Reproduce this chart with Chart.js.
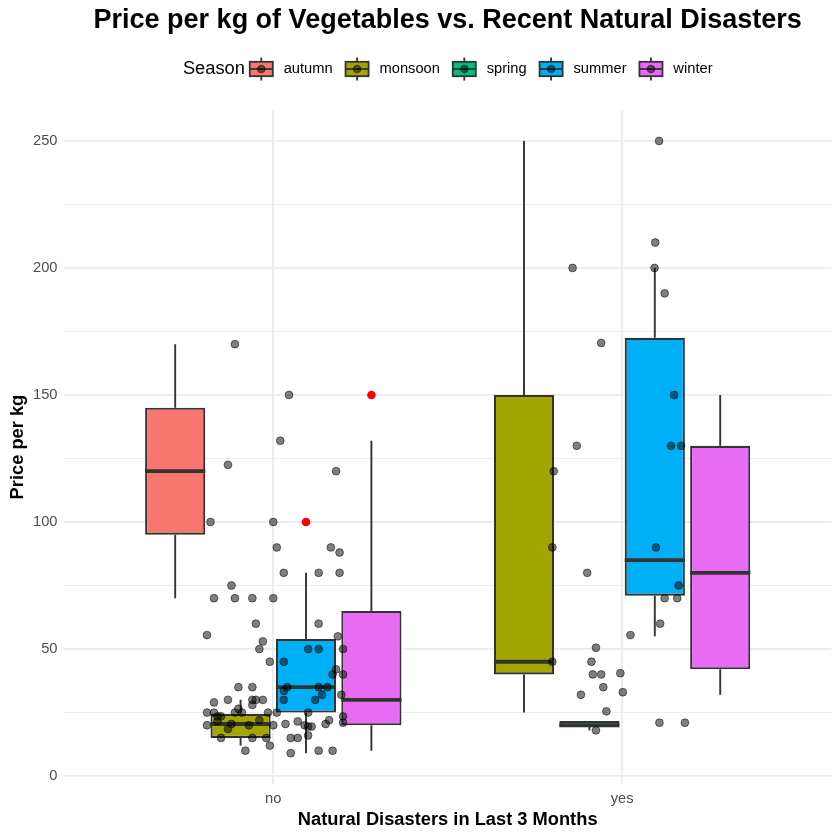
<!DOCTYPE html>
<html lang="en">
<head>
<meta charset="UTF-8">
<title>Price per kg of Vegetables vs. Recent Natural Disasters</title>
<script src="https://cdn.jsdelivr.net/npm/chart.js"></script>
<style>body { margin: 0; background: #fff; }</style>
</head>
<body>
<canvas id="chart" width="840" height="840"></canvas>
<script>
const disasterLevels = ['no', 'yes'];
const seasons = ['autumn', 'monsoon', 'spring', 'summer', 'winter'];
const seasonColors = ['#F8766D', '#A3A500', '#00BF7D', '#00B0F6', '#E76BF3'];
const priceTicks = [0, 25, 50, 75, 100, 125, 150, 175, 200, 225, 250];

// box statistics, one entry per box (dodged within each group)
const boxGroup  = ['no', 'no', 'no', 'no', 'yes', 'yes', 'yes', 'yes'];
const boxSeason = ['autumn', 'monsoon', 'summer', 'winter', 'monsoon', 'spring', 'summer', 'winter'];
const boxLow    = [70, 12, 9, 10, 25, 18, 55, 32];
const boxQ1     = [95, 15, 25, 20, 40, 19.8, 71, 42];
const boxMedian = [120, 20.5, 35, 30, 45, 20, 85, 80];
const boxQ3     = [145, 24.5, 54, 65, 150, 21.7, 172.5, 130];
const boxHigh   = [170, 30, 80, 132, 250, 21.7, 200, 150];

// outliers drawn by the boxplot layer
const outlierGroup  = ['no', 'no'];
const outlierSeason = ['summer', 'winter'];
const outlierPrice  = [100, 150];

// raw observations (jitter offset from the group centre, price)
const noJitter = [-0.18, 0.00, 0.01, 0.165, 0.19, 0.03, 0.13, 0.19, -0.12, -0.17, -0.11, -0.06, 0.00,
  -0.05, 0.13, -0.19, -0.03, -0.04, 0.185, 0.10, 0.13, 0.20, -0.01, 0.03, 0.18, 0.17, 0.20,
  -0.10, -0.06, 0.04, 0.13, 0.155, 0.03, 0.14, 0.03, 0.12, 0.195, -0.17, -0.13, -0.06, -0.05, -0.03,
  -0.06, -0.10, -0.19, -0.17, -0.11, -0.09, -0.015, 0.01, 0.10, 0.20, -0.16, -0.15, -0.12, -0.19,
  -0.16, -0.04, -0.07, -0.13, 0.00, 0.035, 0.07, 0.09, 0.10, 0.11, 0.15, 0.16, 0.20, -0.15, -0.06,
  -0.02, 0.05, 0.07, 0.10, -0.01, -0.08, 0.05, 0.13, 0.17, -0.11, 0.045, 0.02, -0.13, 0.18];
const noPrice = [100, 100, 90, 90, 88, 80, 80, 80, 75, 70, 70, 70, 70,
  60, 60, 55.5, 53, 50, 55, 50, 50, 50, 45, 45, 42, 40, 40,
  35, 35, 35, 35, 35, 33.5, 32, 30, 30, 32, 29, 30, 30, 30, 30,
  28, 26.5, 25, 25, 25, 25, 25, 25, 25, 23.5, 23.5, 23.5, 20.5, 20,
  21.5, 22, 20, 18.5, 20, 20.5, 21.5, 20, 19.5, 19.5, 20.5, 22, 21, 15, 15,
  15, 15, 15, 16, 12, 10, 9, 10, 10, 170, 150, 132, 122.5, 120];
const yesJitter = [-0.142, 0.093, 0.122, -0.06, 0.149, -0.13, 0.14, 0.169, -0.196, 0.095, 0.106,
  -0.20, -0.10, 0.097, 0.162, 0.122, 0.158, 0.109, 0.024, -0.075, -0.20, -0.088, -0.084, -0.06,
  -0.005, -0.054, -0.118, 0.002, -0.045, -0.075, 0.107, 0.18];
const yesPrice = [200, 200, 190, 170.5, 150, 130, 130, 130, 120, 210, 250,
  90, 80, 90, 75, 70, 70, 60, 55.5, 50.5, 45, 45, 40, 40,
  40.5, 35, 32, 33, 25.5, 18, 21, 21];

const font = "'Liberation Sans', Arial, sans-serif";
Chart.defaults.font.family = font;

// ggplot-style dodge: boxes in a group share 0.75 of the category width
function dodgeX(group, season) {
  const inGroup = boxSeason.filter((s, i) => boxGroup[i] === group);
  const n = inGroup.length;
  const slot = inGroup.indexOf(season);
  return disasterLevels.indexOf(group) + 1 + (slot - (n - 1) / 2) * 0.75 / n;
}

const boxDatasets = seasons.map((s, si) => ({
  type: 'bar',
  label: s,
  order: 3,
  backgroundColor: seasonColors[si],
  borderColor: '#333333',
  borderWidth: 2.1,
  borderSkipped: false,
  grouped: false,
  barPercentage: 0.92,
  categoryPercentage: 1,
  data: boxSeason.map((bs, i) => bs !== s ? null : {
    x: dodgeX(boxGroup[i], s), y: [boxQ1[i], boxQ3[i]],
    low: boxLow[i], median: boxMedian[i], high: boxHigh[i]
  }).filter(d => d)
}));

const outlierDataset = {
  type: 'scatter',
  label: 'outliers',
  order: 2,
  data: outlierPrice.map((p, i) => ({x: dodgeX(outlierGroup[i], outlierSeason[i]), y: p})),
  backgroundColor: '#FF0000',
  borderWidth: 0,
  pointRadius: 4.3
};

const jitterDataset = {
  type: 'scatter',
  label: 'observations',
  order: 1,
  data: noJitter.map((j, i) => ({x: 1 + j, y: noPrice[i]}))
    .concat(yesJitter.map((j, i) => ({x: 2 + j, y: yesPrice[i]}))),
  backgroundColor: 'rgba(0,0,0,0.5)',
  borderColor: 'rgba(0,0,0,0.5)',
  borderWidth: 1,
  pointRadius: 3.9
};

// whiskers before each box, medians after it
const boxPlugin = {
  id: 'boxWhiskers',
  beforeDatasetDraw(chart, args) {
    if (args.meta.type !== 'bar') return;
    const ctx = chart.ctx, y = chart.scales.y;
    const ds = chart.data.datasets[args.index];
    ctx.save();
    ctx.strokeStyle = '#333333';
    ctx.lineWidth = 1.9;
    args.meta.data.forEach((bar, i) => {
      const d = ds.data[i];
      ctx.beginPath();
      ctx.moveTo(bar.x, y.getPixelForValue(d.high));
      ctx.lineTo(bar.x, y.getPixelForValue(d.y[1]));
      ctx.moveTo(bar.x, y.getPixelForValue(d.y[0]));
      ctx.lineTo(bar.x, y.getPixelForValue(d.low));
      ctx.stroke();
    });
    ctx.restore();
  },
  afterDatasetDraw(chart, args) {
    if (args.meta.type !== 'bar') return;
    const ctx = chart.ctx, y = chart.scales.y;
    const ds = chart.data.datasets[args.index];
    ctx.save();
    ctx.strokeStyle = '#333333';
    ctx.lineWidth = 3.8;
    args.meta.data.forEach((bar, i) => {
      const py = y.getPixelForValue(ds.data[i].median);
      ctx.beginPath();
      ctx.moveTo(bar.x - bar.width / 2, py);
      ctx.lineTo(bar.x + bar.width / 2, py);
      ctx.stroke();
    });
    ctx.restore();
  }
};

// horizontal legend with the title on the left, like ggplot
const legendPlugin = {
  id: 'seasonLegend',
  afterDraw(chart) {
    const ctx = chart.ctx, area = chart.chartArea;
    const cy = 69, key = 28.8, keyGap = 8, itemGap = 10, titleGap = 2;
    ctx.save();
    ctx.font = '18.3px ' + font;
    const titleW = ctx.measureText('Season').width;
    ctx.font = '14.7px ' + font;
    const widths = seasons.map(s => ctx.measureText(s).width);
    const total = titleW + titleGap + seasons.length * (key + keyGap) +
      widths.reduce((a, b) => a + b, 0) + itemGap * (seasons.length - 1);
    let x = (area.left + area.right) / 2 - total / 2;
    ctx.fillStyle = '#000';
    ctx.textBaseline = 'middle';
    ctx.font = '18.3px ' + font;
    ctx.fillText('Season', x, cy);
    x += titleW + titleGap;
    ctx.font = '14.7px ' + font;
    seasons.forEach((s, i) => {
      const cx = x + key / 2;
      ctx.strokeStyle = '#333333';
      ctx.lineWidth = 1.8;
      ctx.beginPath();
      ctx.moveTo(cx, cy - key * 0.4);
      ctx.lineTo(cx, cy + key * 0.4);
      ctx.stroke();
      ctx.fillStyle = seasonColors[i];
      ctx.fillRect(x + key * 0.1, cy - key * 0.25, key * 0.8, key * 0.5);
      ctx.strokeRect(x + key * 0.1, cy - key * 0.25, key * 0.8, key * 0.5);
      ctx.beginPath();
      ctx.moveTo(x + key * 0.1, cy);
      ctx.lineTo(x + key * 0.9, cy);
      ctx.stroke();
      ctx.fillStyle = 'rgba(0,0,0,0.5)';
      ctx.strokeStyle = 'rgba(0,0,0,0.5)';
      ctx.lineWidth = 1;
      ctx.beginPath();
      ctx.arc(cx, cy, 3.8, 0, Math.PI * 2);
      ctx.fill();
      ctx.stroke();
      x += key + keyGap;
      ctx.fillStyle = '#000';
      ctx.fillText(s, x, cy);
      x += widths[i] + itemGap;
    });
    ctx.restore();
  }
};

new Chart(document.getElementById('chart'), {
  type: 'bar',
  data: { datasets: [...boxDatasets, outlierDataset, jitterDataset] },
  options: {
    responsive: false,
    animation: false,
    layout: { padding: { left: 0, right: 8.6, top: 0, bottom: 0 } },
    plugins: {
      legend: { display: false },
      tooltip: { enabled: false },
      title: {
        display: true,
        fullSize: false,
        text: 'Price per kg of Vegetables vs. Recent Natural Disasters',
        color: '#000',
        font: { size: 27, weight: 'bold' },
        padding: { top: 4, bottom: 74 }
      }
    },
    scales: {
      x: {
        type: 'linear',
        min: 0.4,
        max: 2.6,
        offset: false,
        afterBuildTicks: s => { s.ticks = disasterLevels.map((d, i) => ({ value: i + 1 })); },
        afterFit: s => { s.height = 56.3; },
        ticks: {
          callback: v => disasterLevels[v - 1],
          color: '#4D4D4D',
          font: { size: 14.7 },
          padding: 6,
          maxRotation: 0,
          autoSkip: false
        },
        grid: { color: '#EBEBEB', lineWidth: 1.8, drawTicks: false, offset: false },
        border: { display: false },
        title: {
          display: true,
          text: 'Natural Disasters in Last 3 Months',
          color: '#000',
          font: { size: 18.3, weight: 'bold' },
          padding: { top: 0, bottom: 9 }
        }
      },
      y: {
        min: -3,
        max: 262,
        afterBuildTicks: s => { s.ticks = priceTicks.map(v => ({ value: v })); },
        afterFit: s => { s.width = 64; },
        ticks: {
          callback: v => (v % 50 === 0 ? String(v) : ''),
          color: '#4D4D4D',
          font: { size: 14.7 },
          padding: 6.5
        },
        grid: {
          color: '#EBEBEB',
          lineWidth: c => (c.tick && c.tick.value % 50 === 0 ? 1.8 : 0.9),
          drawTicks: false
        },
        border: { display: false },
        title: {
          display: true,
          text: 'Price per kg',
          color: '#000',
          font: { size: 18.3, weight: 'bold' },
          padding: { top: 6.5, bottom: 0 }
        }
      }
    }
  },
  plugins: [boxPlugin, legendPlugin]
});
</script>
</body>
</html>
